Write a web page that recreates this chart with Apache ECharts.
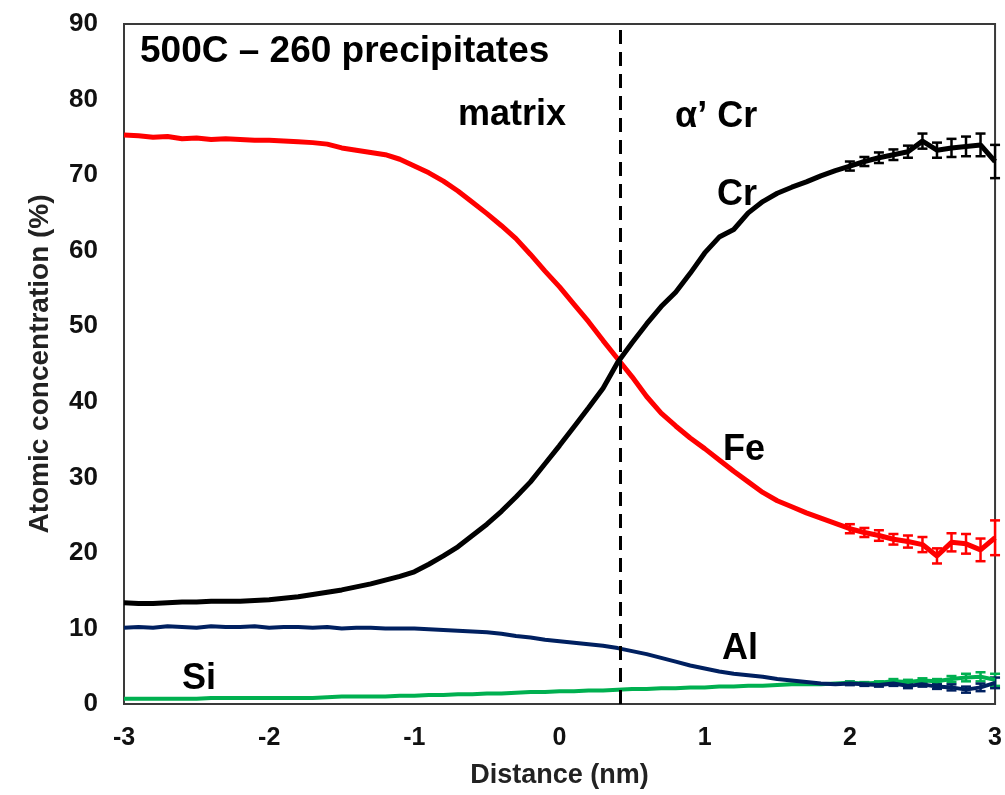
<!DOCTYPE html>
<html>
<head>
<meta charset="utf-8">
<script src="https://cdn.jsdelivr.net/npm/echarts@6/dist/echarts.min.js"></script>
<style>
  html, body { margin: 0; padding: 0; background: #fff; }
  #chart { width: 1005px; height: 795px; }
</style>
</head>
<body>
<div id="chart"></div>
<script>
const distance = [
  -3.0, -2.9, -2.8, -2.7, -2.6, -2.5, -2.4, -2.3, -2.2, -2.1,
  -2.0, -1.9, -1.8, -1.7, -1.6, -1.5, -1.4, -1.3, -1.2, -1.1,
  -1.0, -0.9, -0.8, -0.7, -0.6, -0.5, -0.4, -0.3, -0.2, -0.1,
  0.0, 0.1, 0.2, 0.3, 0.4, 0.5, 0.6, 0.7, 0.8, 0.9,
  1.0, 1.1, 1.2, 1.3, 1.4, 1.5, 1.6, 1.7, 1.8, 1.9,
  2.0, 2.1, 2.2, 2.3, 2.4, 2.5, 2.6, 2.7, 2.8, 2.9, 3.0
];

const feValues = [
  75.3, 75.2, 75.0, 75.1, 74.8, 74.9, 74.7, 74.8, 74.7, 74.6,
  74.6, 74.5, 74.4, 74.3, 74.1, 73.6, 73.3, 73.0, 72.7, 72.1,
  71.2, 70.3, 69.2, 67.9, 66.4, 64.9, 63.3, 61.6, 59.5, 57.3,
  55.2, 52.9, 50.6, 48.1, 45.7, 43.3, 40.7, 38.5, 36.8, 35.2,
  33.8, 32.3, 30.8, 29.4, 28.0, 26.9, 26.1, 25.3, 24.6, 23.9,
  23.2, 22.7, 22.3, 21.8, 21.5, 21.1, 19.6, 21.4, 21.2, 20.4, 22.0
];

const crValues = [
  13.4, 13.3, 13.3, 13.4, 13.5, 13.5, 13.6, 13.6, 13.6, 13.7,
  13.8, 14.0, 14.2, 14.5, 14.8, 15.1, 15.5, 15.9, 16.4, 16.9,
  17.5, 18.5, 19.6, 20.8, 22.3, 23.8, 25.5, 27.4, 29.4, 31.8,
  34.2, 36.7, 39.2, 41.8, 45.2, 47.8, 50.3, 52.6, 54.5, 57.0,
  59.7, 61.8, 62.8, 65.0, 66.5, 67.6, 68.4, 69.1, 69.9, 70.6,
  71.2, 71.8, 72.3, 72.7, 73.1, 74.5, 73.3, 73.6, 73.8, 74.0, 71.8
];

const alValues = [
  10.1, 10.2, 10.1, 10.3, 10.2, 10.1, 10.3, 10.2, 10.2, 10.3,
  10.1, 10.2, 10.2, 10.1, 10.2, 10.0, 10.1, 10.1, 10.0, 10.0,
  10.0, 9.9, 9.8, 9.7, 9.6, 9.5, 9.3, 9.0, 8.8, 8.5,
  8.3, 8.1, 7.9, 7.7, 7.4, 7.0, 6.6, 6.1, 5.6, 5.1,
  4.7, 4.3, 4.0, 3.8, 3.6, 3.3, 3.1, 2.9, 2.7, 2.6,
  2.7, 2.6, 2.5, 2.7, 2.4, 2.6, 2.3, 2.2, 1.9, 2.2, 2.8
];

const siValues = [
  0.7, 0.7, 0.7, 0.7, 0.7, 0.7, 0.8, 0.8, 0.8, 0.8,
  0.8, 0.8, 0.8, 0.8, 0.9, 1.0, 1.0, 1.0, 1.0, 1.1,
  1.1, 1.2, 1.2, 1.3, 1.3, 1.4, 1.4, 1.5, 1.6, 1.6,
  1.7, 1.7, 1.8, 1.8, 1.9, 2.0, 2.0, 2.1, 2.1, 2.2,
  2.2, 2.3, 2.3, 2.4, 2.4, 2.5, 2.6, 2.6, 2.6, 2.7,
  2.8, 2.7, 2.8, 3.0, 2.9, 3.1, 3.0, 3.3, 3.5, 3.6, 3.2
];

// error bars on the last points (distance 2.0 .. 3.0)
const errStart = 50;
const crErr = [0.6, 0.6, 0.7, 0.7, 0.8, 1.0, 1.0, 1.2, 1.3, 1.5, 2.2];
const feErr = [0.6, 0.6, 0.7, 0.7, 0.8, 1.0, 1.0, 1.2, 1.3, 1.5, 2.3];
const alErr = [0.2, 0.2, 0.2, 0.3, 0.3, 0.3, 0.3, 0.4, 0.4, 0.5, 0.7];
const siErr = [0.2, 0.2, 0.2, 0.3, 0.3, 0.3, 0.3, 0.4, 0.5, 0.6, 0.8];

const dividerAt = 0.42;

const labelFont = 'bold 36px "Liberation Sans", Arial, sans-serif';

const pairs = (vals) => distance.map((d, i) => [d, vals[i]]);

const errData = (vals, errs) =>
  errs.map((e, k) => {
    const i = errStart + k;
    return [distance[i], vals[i] - e, vals[i] + e];
  });

const errSeries = (vals, errs, color) => ({
  type: 'custom',
  silent: true,
  z: 3,
  data: errData(vals, errs),
  renderItem: (params, api) => {
    const lo = api.coord([api.value(0), api.value(1)]);
    const hi = api.coord([api.value(0), api.value(2)]);
    const w = 5;
    const style = { stroke: color, lineWidth: 2.5 };
    return {
      type: 'group',
      children: [
        { type: 'line', shape: { x1: lo[0], y1: lo[1], x2: hi[0], y2: hi[1] }, style },
        { type: 'line', shape: { x1: lo[0] - w, y1: lo[1], x2: lo[0] + w, y2: lo[1] }, style },
        { type: 'line', shape: { x1: hi[0] - w, y1: hi[1], x2: hi[0] + w, y2: hi[1] }, style }
      ]
    };
  }
});

const lineSeries = (name, vals, color, width) => ({
  name: name,
  type: 'line',
  data: pairs(vals),
  showSymbol: false,
  z: 4,
  lineStyle: { color: color, width: width },
  itemStyle: { color: color }
});

const textEl = (text, x, y, size) => ({
  type: 'text',
  x: x,
  y: y,
  style: {
    text: text,
    font: size ? 'bold ' + size + 'px "Liberation Sans", Arial, sans-serif' : labelFont,
    fill: '#000',
    verticalAlign: 'middle'
  }
});

const getOption = () => {
  return {
    animation: false,
    backgroundColor: '#fff',
    grid: {
      left: 124, top: 24, right: 9, bottom: 91,
      show: true, borderColor: '#3a3a3a', borderWidth: 2
    },
    xAxis: {
      type: 'value',
      min: -3, max: 3, interval: 1,
      name: 'Distance (nm)',
      nameLocation: 'middle',
      nameGap: 58,
      nameTextStyle: { fontSize: 27, fontWeight: 'bold', color: '#222', fontFamily: 'Liberation Sans' },
      axisLine: { show: true, onZero: false, lineStyle: { color: '#3a3a3a', width: 2 } },
      axisTick: { show: false },
      splitLine: { show: false },
      axisLabel: { margin: 22, fontSize: 25, fontWeight: 'bold', color: '#111', fontFamily: 'Liberation Sans' }
    },
    yAxis: {
      type: 'value',
      min: 0, max: 90, interval: 10,
      name: 'Atomic concentration (%)',
      nameLocation: 'middle',
      nameGap: 70,
      nameTextStyle: { fontSize: 28, fontWeight: 'bold', color: '#222', fontFamily: 'Liberation Sans' },
      axisLine: { show: true, onZero: false, lineStyle: { color: '#3a3a3a', width: 2 } },
      axisTick: { show: false },
      splitLine: { show: false },
      axisLabel: { margin: 26, fontSize: 26, fontWeight: 'bold', color: '#111', fontFamily: 'Liberation Sans' }
    },
    series: [
      lineSeries('Si', siValues, '#00b050', 4),
      lineSeries('Al', alValues, '#002060', 4),
      Object.assign(lineSeries('Fe', feValues, '#ff0000', 5), {
        markLine: {
          silent: true,
          symbol: 'none',
          label: { show: false },
          lineStyle: { color: '#000', type: [14, 8], width: 3 },
          data: [{ xAxis: dividerAt }]
        }
      }),
      lineSeries('Cr', crValues, '#000000', 5),
      errSeries(siValues, siErr, '#00b050'),
      errSeries(alValues, alErr, '#002060'),
      errSeries(feValues, feErr, '#ff0000'),
      errSeries(crValues, crErr, '#000000')
    ],
    graphic: [
      textEl('500C – 260 precipitates', 140, 52, 37),
      textEl('matrix', 458, 115),
      textEl('α’ Cr', 675, 117),
      textEl('Cr', 717, 195),
      textEl('Fe', 723, 450),
      textEl('Al', 722, 649),
      textEl('Si', 182, 679)
    ]
  };
};

const initCharts = () => {
  const chart = echarts.init(document.getElementById('chart'));
  chart.setOption(getOption());
};

window.addEventListener('load', () => {
  initCharts();
});
</script>
</body>
</html>
